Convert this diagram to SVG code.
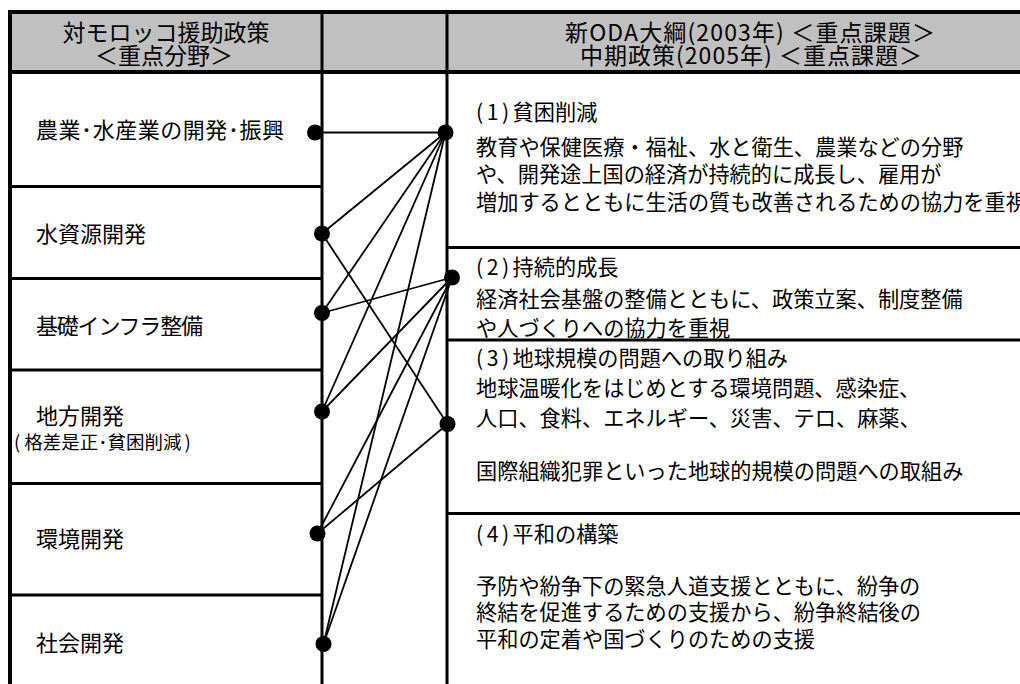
<svg xmlns="http://www.w3.org/2000/svg" width="1020" height="684" viewBox="0 0 1020 684">
<style>
  text { font-family: "Noto Sans CJK JP", "Noto Sans", sans-serif; fill: #000; }
  .hd { font-size: 23px; text-anchor: middle; }
  .lt { font-size: 22px; }
  .sm { font-size: 18.5px; }
  .rt { font-size: 21.2px; }
  .num { letter-spacing: 3.5px; }
  .frame { stroke: #000; fill: none; }
  .b4 { stroke-width: 4; }
  .b3 { stroke-width: 3; }
  .conn line { stroke: #000; stroke-width: 1.8; }
  .dot { fill: #000; }
</style>

<g id="frame">
  <rect x="10" y="12" width="1010" height="60" fill="#C0C0C0"/>
  <path class="frame b4" d="M8 12 H1020 M8 72 H1020 M10 10 V684"/>
  <path class="frame b3" d="M322 10 V684 M447 10 V684"/>
  <path class="frame b3" d="M10 186.5 H322 M10 278.5 H322 M10 370 H322 M10 483.5 H322 M10 595 H322"/>
  <path class="frame b3" d="M447 247.5 H1020 M447 340 H1020 M447 513.5 H1020"/>
</g>

<g id="header-left">
  <text class="hd" x="166" y="40.5">対モロッコ援助政策</text>
  <text class="hd" x="164" y="63.5">＜重点分野＞</text>
</g>
<g id="header-right">
  <text class="hd" x="750" y="40.5" textLength="370" lengthAdjust="spacing">新ODA大綱(2003年) ＜重点課題＞</text>
  <text class="hd" x="751" y="63.5" textLength="342" lengthAdjust="spacing">中期政策(2005年) ＜重点課題＞</text>
</g>

<g id="left-1"><text class="lt" x="36" y="137.5" textLength="248" lengthAdjust="spacing">農業･水産業の開発･振興</text></g>
<g id="left-2"><text class="lt" x="36" y="241.5">水資源開発</text></g>
<g id="left-3"><text class="lt" x="36" y="333.5" textLength="167" lengthAdjust="spacing">基礎インフラ整備</text></g>
<g id="left-4">
  <text class="lt" x="36" y="423.5">地方開発</text>
  <text class="sm" x="14" y="448.5">(<tspan dx="4">格差是正･貧困削減</tspan><tspan dx="3">)</tspan></text>
</g>
<g id="left-5"><text class="lt" x="36" y="546.5">環境開発</text></g>
<g id="left-6"><text class="lt" x="36" y="650.5">社会開発</text></g>

<g id="right-1">
  <text class="rt" x="476" y="120"><tspan class="num">(1)</tspan>貧困削減</text>
  <text class="rt" x="476" y="155">教育や保健医療・福祉、水と衛生、農業などの分野</text>
  <text class="rt" x="476" y="181.5">や、開発途上国の経済が持続的に成長し、雇用が</text>
  <text class="rt" x="476" y="210">増加するとともに生活の質も改善されるための協力を重視</text>
</g>
<g id="right-2">
  <text class="rt" x="476" y="275"><tspan class="num">(2)</tspan>持続的成長</text>
  <text class="rt" x="476" y="306.5">経済社会基盤の整備とともに、政策立案、制度整備</text>
  <text class="rt" x="476" y="335.5">や人づくりへの協力を重視</text>
</g>
<g id="right-3">
  <text class="rt" x="476" y="365.5"><tspan class="num">(3)</tspan>地球規模の問題への取り組み</text>
  <text class="rt" x="476" y="395.5">地球温暖化をはじめとする環境問題、感染症、</text>
  <text class="rt" x="476" y="425.5">人口、食料、エネルギー、災害、テロ、麻薬、</text>
  <text class="rt" x="476" y="478.5">国際組織犯罪といった地球的規模の問題への取組み</text>
</g>
<g id="right-4">
  <text class="rt" x="476" y="542"><tspan class="num">(4)</tspan>平和の構築</text>
  <text class="rt" x="476" y="593.5">予防や紛争下の緊急人道支援とともに、紛争の</text>
  <text class="rt" x="476" y="620">終結を促進するための支援から、紛争終結後の</text>
  <text class="rt" x="476" y="646.5">平和の定着や国づくりのための支援</text>
</g>

<g id="connectors" class="conn">
  <line x1="315" y1="132.5" x2="445.5" y2="132.5"/>
  <line x1="322" y1="233.5" x2="445.5" y2="132.5"/>
  <line x1="322" y1="233.5" x2="447.5" y2="424"/>
  <line x1="322" y1="313" x2="445.5" y2="132.5"/>
  <line x1="322" y1="313" x2="452" y2="277.5"/>
  <line x1="322" y1="411.5" x2="445.5" y2="132.5"/>
  <line x1="322" y1="411.5" x2="452" y2="277.5"/>
  <line x1="317.5" y1="533.5" x2="452" y2="277.5"/>
  <line x1="317.5" y1="533.5" x2="447.5" y2="424"/>
  <line x1="323.5" y1="644" x2="445.5" y2="132.5"/>
  <line x1="323.5" y1="644" x2="452" y2="277.5"/>
</g>

<g id="dots">
  <circle class="dot" cx="315" cy="132.5" r="8"/>
  <circle class="dot" cx="322" cy="233.5" r="8"/>
  <circle class="dot" cx="322" cy="313" r="8"/>
  <circle class="dot" cx="322" cy="411.5" r="8"/>
  <circle class="dot" cx="317.5" cy="533.5" r="8"/>
  <circle class="dot" cx="323.5" cy="644" r="8"/>
  <circle class="dot" cx="445.5" cy="132.5" r="8"/>
  <circle class="dot" cx="452" cy="277.5" r="8"/>
  <circle class="dot" cx="447.5" cy="424" r="8"/>
</g>
</svg>
